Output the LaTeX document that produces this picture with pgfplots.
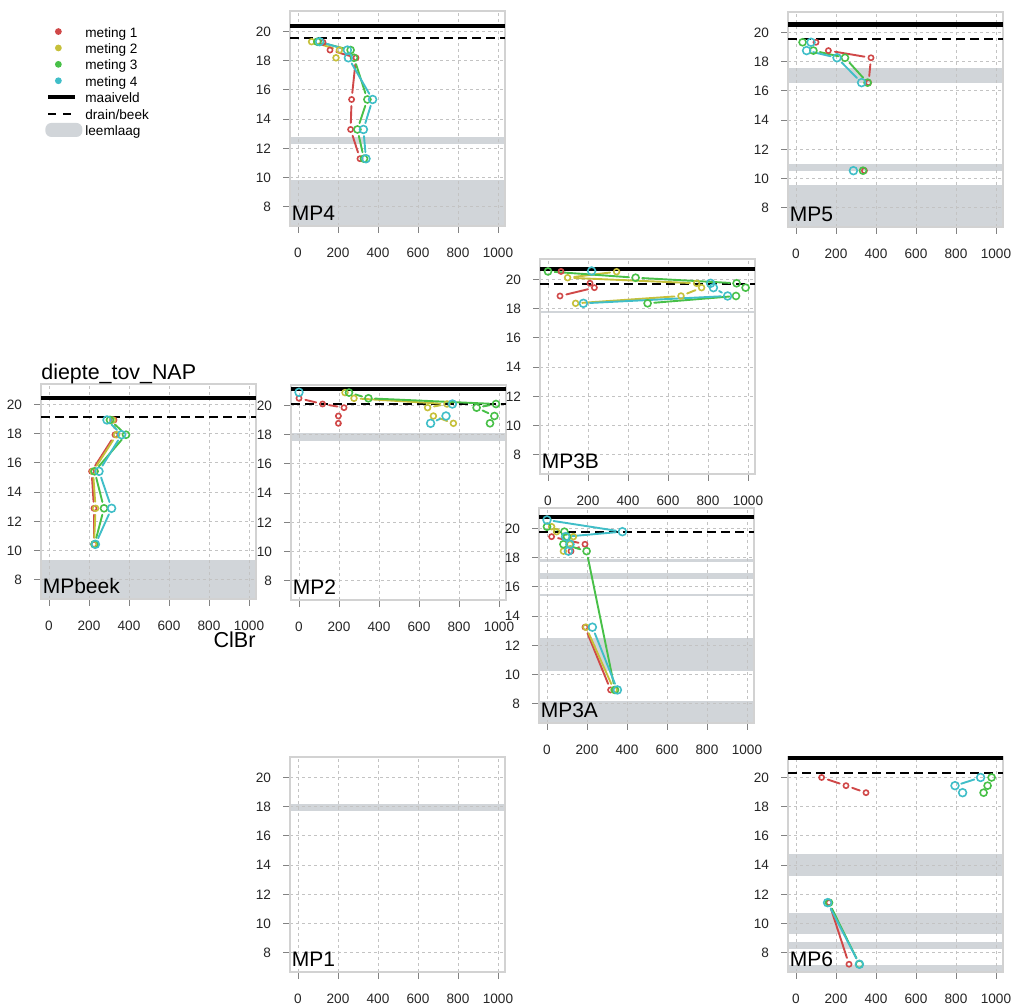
\documentclass[border=0pt]{standalone}
\usepackage{pgfplots}
\pgfplotsset{compat=1.18}
\usepackage{fontspec}
\setmainfont{Liberation Sans}
\definecolor{mA}{RGB}{208,72,72}
\definecolor{mB}{RGB}{198,192,58}
\definecolor{mC}{RGB}{72,192,72}
\definecolor{mD}{RGB}{64,190,200}
\definecolor{leem}{RGB}{209,213,217}
\definecolor{framec}{RGB}{210,210,210}
\definecolor{gridc}{RGB}{195,195,195}
\definecolor{tickc}{RGB}{130,130,130}

\newcommand{\seg}[5]{\addplot[#1, line width=0.95pt, line cap=round, shorten <=3.3pt, shorten >=3.3pt] coordinates {(#2,#3) (#4,#5)};}
\newcommand{\pts}[3]{\addplot[only marks, mark=o, mark size=#2, #1, mark options={line width=0.8pt}] coordinates {#3};}
\newcommand{\band}[2]{\addplot[fill=leem, draw=none, on layer=axis background] coordinates {(-40,#1) (1035,#1) (1035,#2) (-40,#2)};}
\newcommand{\maai}[1]{\addplot[black, line width=2.1pt] coordinates {(-40,#1) (1035,#1)};}
\newcommand{\drain}[1]{\addplot[black, line width=1.05pt, dash pattern=on 4.5pt off 2.5pt] coordinates {(-40,#1) (1035,#1)};}
\newcommand{\lab}[1]{\node[anchor=base west, font=\fontsize{10.5}{12}\selectfont, inner sep=0pt, xshift=0.7pt, yshift=2.6pt] at (rel axis cs:0,0) {#1};}
\newcommand{\lbox}{\path[draw=none,fill=none] (-1.5pt,-2.6pt) rectangle (17pt,4.4pt);}

\pgfplotsset{
  panel/.style={
    scale only axis, width=107.5pt, height=107.5pt,
    anchor=south west,
    xmin=-40, xmax=1035, ymin=6.7, ymax=21.4,
    xtick={0,200,...,1000}, ytick={8,10,...,20},
    tick pos=left, tick align=outside, major tick length=3.5pt,
    every tick/.style={tickc, line width=0.5pt},
    axis line style={framec, line width=0.6pt},
    grid=major, grid style={gridc, line width=0.5pt, dash pattern=on 1.3pt off 1.7pt},
    ticklabel style={font=\fontsize{6.8}{7}\selectfont, text=black!85},
    xticklabel style={yshift=-4pt},
    yticklabel style={xshift=-2.5pt},
    /pgf/number format/assume math mode=true,
    /pgf/number format/set thousands separator={},
    set layers=standard,
    clip=false,
  },
}

\begin{document}
\begin{tikzpicture}

% ---------- legend ----------
\begin{axis}[hide axis, scale only axis, width=507pt, height=503.5pt, at={(0pt,0pt)}, anchor=south west,
  xmin=0, xmax=1, ymin=0, ymax=1,
  legend style={at={(0.0414,0.976)}, anchor=north west, draw=none, fill=none,
    font=\fontsize{6.8}{8}\selectfont, row sep=0.55pt, inner sep=0pt,
    nodes={inner sep=0pt, text height=5.1pt, text depth=1.4pt}},
  legend cell align=left,
  /tikz/every odd column/.append style={column sep=1.5pt},
]
\addlegendimage{legend image code/.code={\lbox \fill[mA, draw=none] (6.5pt,0.9pt) circle (1.7pt);}}
\addlegendentry{meting 1}
\addlegendimage{legend image code/.code={\lbox \fill[mB, draw=none] (6.5pt,0.9pt) circle (1.7pt);}}
\addlegendentry{meting 2}
\addlegendimage{legend image code/.code={\lbox \fill[mC, draw=none] (6.5pt,0.9pt) circle (1.7pt);}}
\addlegendentry{meting 3}
\addlegendimage{legend image code/.code={\lbox \fill[mD, draw=none] (6.5pt,0.9pt) circle (1.7pt);}}
\addlegendentry{meting 4}
\addlegendimage{legend image code/.code={\lbox \draw[black, line width=2pt] (1.5pt,0.9pt) -- (15pt,0.9pt);}}
\addlegendentry{maaiveld}
\addlegendimage{legend image code/.code={\lbox \draw[black, line width=1pt, dash pattern=on 4pt off 3.5pt] (1.5pt,0.9pt) -- (13pt,0.9pt);}}
\addlegendentry{drain/beek}
\addlegendimage{legend image code/.code={\lbox \fill[leem, draw=none, rounded corners=3pt] (0pt,-2.6pt) rectangle (18.5pt,4.4pt);}}
\addlegendentry{leemlaag}
\end{axis}

% ---------- MP4 ----------
\begin{axis}[panel, at={(145pt,390.5pt)}]
\band{12.31}{12.79}
\band{6.7}{9.85}
\maai{20.37}
\drain{19.53}
\seg{mA}{160}{18.73}{290}{18.2}
\seg{mA}{290}{18.2}{268}{15.35}
\seg{mA}{268}{15.35}{263}{13.3}
\seg{mA}{263}{13.3}{310}{11.3}
\pts{mA}{1.3pt}{(125,19.25)(160,18.73)(290,18.2)(268,15.35)(263,13.3)(310,11.3)}
\seg{mB}{68}{19.3}{207}{18.73}
\pts{mB}{1.45pt}{(68,19.3)(207,18.73)(190,18.2)}
\seg{mC}{97}{19.3}{263}{18.73}
\seg{mC}{280}{18.2}{347}{15.35}
\seg{mC}{347}{15.35}{297}{13.3}
\seg{mC}{297}{13.3}{330}{11.3}
\pts{mC}{1.75pt}{(97,19.3)(263,18.73)(280,18.2)(347,15.35)(297,13.3)(330,11.3)}
\seg{mD}{108}{19.3}{247}{18.73}
\seg{mD}{252}{18.2}{373}{15.35}
\seg{mD}{373}{15.35}{327}{13.3}
\seg{mD}{327}{13.3}{340}{11.3}
\pts{mD}{1.95pt}{(108,19.3)(247,18.73)(252,18.2)(373,15.35)(327,13.3)(340,11.3)}
\lab{MP4}
\end{axis}

% ---------- MP5 ----------
\begin{axis}[panel, at={(394pt,390pt)}]
\band{16.57}{17.55}
\band{10.55}{11.0}
\band{6.7}{9.57}
\maai{20.55}
\drain{19.55}
\seg{mA}{162}{18.76}{375}{18.27}
\seg{mA}{375}{18.27}{363}{16.57}
\pts{mA}{1.3pt}{(100,19.33)(162,18.76)(375,18.27)(363,16.57)(342,10.55)}
\seg{mC}{87}{18.76}{245}{18.27}
\seg{mC}{245}{18.27}{358}{16.57}
\pts{mC}{1.75pt}{(33,19.33)(87,18.76)(245,18.27)(358,16.57)(335,10.55)}
\seg{mD}{53}{18.76}{205}{18.27}
\seg{mD}{205}{18.27}{328}{16.57}
\pts{mD}{1.95pt}{(75,19.33)(53,18.76)(205,18.27)(328,16.57)(287,10.55)}
\lab{MP5}
\end{axis}

% ---------- MP3B ----------
\begin{axis}[panel, at={(270pt,266.5pt)}]
\band{17.73}{17.85}
\maai{20.72}
\drain{19.69}
\seg{mA}{232}{19.44}{60}{18.87}
\pts{mA}{1.3pt}{(65,20.55)(210,19.74)(232,19.44)(60,18.87)}
\seg{mB}{343}{20.53}{98}{20.12}
\seg{mB}{98}{20.12}{743}{19.74}
\seg{mB}{768}{19.44}{665}{18.87}
\seg{mB}{665}{18.87}{138}{18.37}
\pts{mB}{1.45pt}{(343,20.53)(98,20.12)(743,19.74)(768,19.44)(665,18.87)(138,18.37)}
\seg{mC}{0}{20.55}{438}{20.12}
\seg{mC}{438}{20.12}{943}{19.74}
\seg{mC}{940}{18.87}{498}{18.37}
\pts{mC}{1.75pt}{(0,20.55)(438,20.12)(943,19.74)(988,19.44)(940,18.87)(498,18.37)}
\seg{mD}{827}{19.44}{898}{18.87}
\seg{mD}{898}{18.87}{177}{18.37}
\pts{mD}{1.95pt}{(218,20.58)(813,19.74)(827,19.44)(898,18.87)(177,18.37)}
\lab{MP3B}
\end{axis}

% ---------- MPbeek ----------
\begin{axis}[panel, at={(20.5pt,204pt)},
  every axis title shift=0pt,
  title={diepte\_tov\_NAP}, title style={at={(0,1)}, anchor=base west, yshift=2pt, inner sep=0pt, font=\fontsize{10.7}{12}\selectfont},
  xlabel={ClBr}, xlabel style={at={(1,0)}, anchor=base east, yshift=-24.5pt, inner sep=0pt, font=\fontsize{10.8}{12}\selectfont}]
\band{6.7}{9.37}
\maai{20.42}
\drain{19.12}
\seg{mA}{325}{18.94}{330}{17.93}
\seg{mA}{330}{17.93}{213}{15.43}
\seg{mA}{213}{15.43}{225}{12.9}
\seg{mA}{225}{12.9}{225}{10.44}
\pts{mA}{1.3pt}{(325,18.94)(330,17.93)(213,15.43)(225,12.9)(225,10.44)}
\seg{mB}{318}{18.94}{338}{17.93}
\seg{mB}{338}{17.93}{220}{15.43}
\seg{mB}{220}{15.43}{233}{12.9}
\seg{mB}{233}{12.9}{225}{10.44}
\pts{mB}{1.45pt}{(318,18.94)(338,17.93)(220,15.43)(233,12.9)(225,10.44)}
\seg{mC}{305}{18.94}{385}{17.93}
\seg{mC}{385}{17.93}{228}{15.43}
\seg{mC}{228}{15.43}{275}{12.9}
\seg{mC}{275}{12.9}{228}{10.44}
\pts{mC}{1.75pt}{(305,18.94)(385,17.93)(228,15.43)(275,12.9)(228,10.44)}
\seg{mD}{290}{18.94}{363}{17.93}
\seg{mD}{363}{17.93}{250}{15.43}
\seg{mD}{250}{15.43}{313}{12.9}
\seg{mD}{313}{12.9}{232}{10.44}
\pts{mD}{1.95pt}{(290,18.94)(363,17.93)(250,15.43)(313,12.9)(232,10.44)}
\lab{MPbeek}
\end{axis}

% ---------- MP2 ----------
\begin{axis}[panel, at={(145.5pt,203.5pt)}]
\band{17.57}{18.1}
\maai{21.1}
\drain{20.1}
\seg{mA}{0}{20.49}{118}{20.1}
\seg{mA}{118}{20.1}{225}{19.85}
\pts{mA}{1.3pt}{(0,20.49)(118,20.1)(225,19.85)(197,19.28)(197,18.78)}
\seg{mB}{275}{20.49}{740}{20.1}
\seg{mB}{740}{20.1}{643}{19.85}
\seg{mB}{672}{19.28}{772}{18.78}
\pts{mB}{1.45pt}{(230,20.88)(275,20.49)(740,20.1)(643,19.85)(672,19.28)(772,18.78)}
\seg{mC}{250}{20.88}{347}{20.49}
\seg{mC}{347}{20.49}{985}{20.1}
\seg{mC}{985}{20.1}{888}{19.85}
\seg{mC}{888}{19.85}{977}{19.28}
\pts{mC}{1.75pt}{(250,20.88)(347,20.49)(985,20.1)(888,19.85)(977,19.28)(955,18.78)}
\seg{mD}{735}{19.28}{658}{18.78}
\pts{mD}{1.95pt}{(0,20.9)(767,20.1)(735,19.28)(658,18.78)}
\lab{MP2}
\end{axis}

% ---------- MP3A ----------
\begin{axis}[panel, at={(269.5pt,142pt)}]
\band{17.73}{17.89}
\band{16.53}{16.94}
\band{15.38}{15.52}
\band{10.26}{12.54}
\band{6.7}{8.21}
\maai{20.76}
\drain{19.74}
\seg{mA}{23}{19.44}{190}{18.92}
\seg{mA}{190}{18.92}{120}{18.45}
\seg{mA}{190}{13.25}{318}{8.96}
\pts{mA}{1.3pt}{(23,19.44)(190,18.92)(120,18.45)(190,13.25)(318,8.96)}
\seg{mB}{48}{19.78}{132}{19.44}
\seg{mB}{195}{13.25}{335}{8.96}
\pts{mB}{1.45pt}{(23,20.12)(48,19.78)(132,19.44)(115,18.92)(82,18.45)(195,13.25)(335,8.96)}
\seg{mC}{0}{20.12}{87}{19.78}
\seg{mC}{82}{18.92}{198}{18.45}
\seg{mC}{198}{18.45}{340}{8.96}
\pts{mC}{1.75pt}{(0,20.12)(87,19.78)(100,19.44)(82,18.92)(198,18.45)(340,8.96)}
\seg{mD}{0}{20.58}{377}{19.78}
\seg{mD}{377}{19.78}{93}{19.44}
\seg{mD}{227}{13.25}{352}{8.96}
\pts{mD}{1.95pt}{(0,20.58)(377,19.78)(93,19.44)(115,18.92)(107,18.45)(227,13.25)(352,8.96)}
\lab{MP3A}
\end{axis}

% ---------- MP1 ----------
\begin{axis}[panel, at={(145pt,17.5pt)}]
\band{17.71}{18.19}
\lab{MP1}
\end{axis}

% ---------- MP6 ----------
\begin{axis}[panel, at={(394pt,17.5pt)}]
\band{13.27}{14.75}
\band{9.28}{10.76}
\band{8.25}{8.73}
\band{6.7}{7.18}
\maai{21.31}
\drain{20.29}
\seg{mA}{128}{20.0}{250}{19.44}
\seg{mA}{250}{19.44}{350}{18.96}
\seg{mA}{165}{11.44}{265}{7.23}
\pts{mA}{1.3pt}{(128,20.0)(250,19.44)(350,18.96)(165,11.44)(265,7.23)}
\seg{mC}{165}{11.44}{317}{7.23}
\pts{mC}{1.75pt}{(978,20.0)(958,19.44)(938,18.96)(165,11.44)(317,7.23)}
\seg{mD}{923}{20.0}{795}{19.44}
\seg{mD}{158}{11.44}{317}{7.23}
\pts{mD}{1.95pt}{(923,20.0)(795,19.44)(833,18.96)(158,11.44)(317,7.23)}
\lab{MP6}
\end{axis}

\pgfresetboundingbox
\useasboundingbox (0pt,0pt) rectangle (507pt,503.5pt);
\end{tikzpicture}
\end{document}
